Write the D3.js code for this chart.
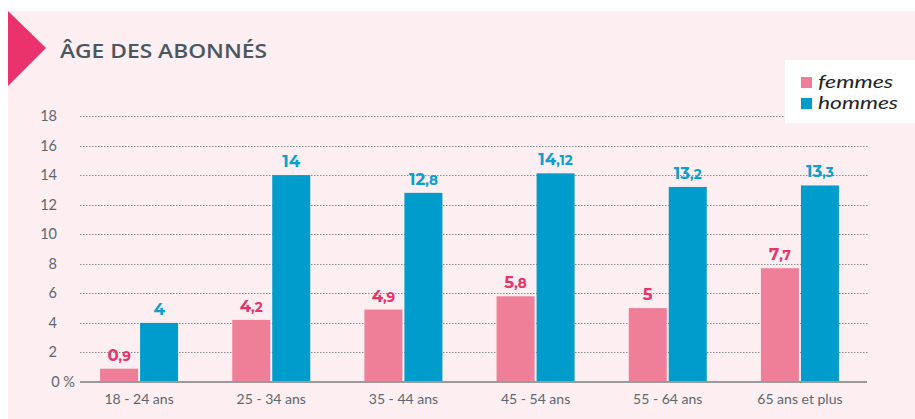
<!DOCTYPE html>
<html><head><meta charset="utf-8">
<script src="https://cdn.jsdelivr.net/npm/d3@7"></script>
<style>body{margin:0;background:#fff;}svg{display:block;}</style>
</head><body>
<script>
const categories = ["18 - 24 ans","25 - 34 ans","35 - 44 ans","45 - 54 ans","55 - 64 ans","65 ans et plus"];
const femmes = [0.9, 4.2, 4.9, 5.8, 5, 7.7];
const hommes = [4, 14, 12.8, 14.12, 13.2, 13.3];
const femmesLabels = ["0,9","4,2","4,9","5,8","5","7,7"];
const hommesLabels = ["4","14","12,8","14,12","13,2","13,3"];
const yTicks = [0,2,4,6,8,10,12,14,16,18];
const seriesNames = ["femmes","hommes"];
const colors = {femmes:"#ef7f98", hommes:"#009ccb"};
const labelColors = {femmes:"#e8336b", hommes:"#0aa0d0"};

const W=915,H=419;
const svg=d3.select("body").append("svg").attr("width",W).attr("height",H);
const font="Lato, 'Open Sans', sans-serif";
// background panel
svg.append("rect").attr("x",8).attr("y",11).attr("width",W-8).attr("height",H-11).attr("fill","#fdeef1");
// triangle
svg.append("path").attr("d","M8,11 L46,48 L8,86 Z").attr("fill","#ea336c");
svg.append("text").attr("x",60).attr("y",58).text("ÂGE DES ABONNÉS")
  .attr("font-family","'Open Sans', sans-serif").attr("font-size",19.5).attr("font-weight",600).attr("fill","#4b5760")
  .attr("textLength",207).attr("lengthAdjust","spacingAndGlyphs");

const y=d3.scaleLinear().domain([0,18]).range([382,116]);
const x0=d3.scaleBand().domain(categories).range([73,866]).padding(0);
const x1=d3.scaleBand().domain(seriesNames).range([x0.bandwidth()/2-39, x0.bandwidth()/2+39]).paddingInner(0.05);

// grid
const g=svg.append("g");
g.selectAll("line.grid").data(yTicks.filter(d=>d>0)).join("line")
  .attr("x1",80).attr("x2",869).attr("y1",d=>Math.round(y(d))+0.5).attr("y2",d=>Math.round(y(d))+0.5)
  .attr("stroke","#8a8a8a").attr("stroke-width",1).attr("stroke-dasharray","1.5,1.5");
// y labels
g.selectAll("text.yt").data(yTicks).join("text")
  .attr("x",d=>d===0?75:57).attr("y",d=>y(d)+5).attr("text-anchor","end")
  .text(d=>d===0?"0 %":d).attr("font-family",font).attr("font-size",14.5).attr("fill","#5f6670");

const data=categories.map((c,i)=>({cat:c, vals:[{k:"femmes",v:femmes[i],l:femmesLabels[i]},{k:"hommes",v:hommes[i],l:hommesLabels[i]}]}));
const grp=svg.selectAll("g.grp").data(data).join("g").attr("transform",d=>`translate(${x0(d.cat)},0)`);
grp.selectAll("rect").data(d=>d.vals).join("rect")
  .attr("x",d=>x1(d.k)).attr("width",x1.bandwidth()).attr("y",d=>y(d.v)).attr("height",d=>y(0)-y(d.v))
  .attr("fill",d=>colors[d.k]);
const lbl=grp.selectAll("text.val").data(d=>d.vals).join("text")
  .attr("x",d=>x1(d.k)+x1.bandwidth()/2).attr("y",d=>y(d.v)-8).attr("text-anchor","middle")
  .attr("font-family","Montserrat, 'Open Sans', sans-serif").attr("font-weight",700).attr("font-size",16.5).attr("fill",d=>labelColors[d.k]);
lbl.each(function(d){
  const parts=d.l.split(",");
  const t=d3.select(this);
  t.append("tspan").text(parts[0]);
  if(parts.length>1) t.append("tspan").attr("font-size",13.5).text(","+parts[1]);
});

// axis line
svg.append("line").attr("x1",80).attr("x2",867).attr("y1",382).attr("y2",382).attr("stroke","#9a9a9c").attr("stroke-width",2);
// x labels
svg.selectAll("text.xl").data(categories).join("text")
  .attr("x",d=>x0(d)+x0.bandwidth()/2).attr("y",404).attr("text-anchor","middle")
  .text(d=>d).attr("font-family",font).attr("font-size",14).attr("fill","#5f6670");

// legend
const legendLen={femmes:75, hommes:80};
svg.append("rect").attr("x",785).attr("y",60).attr("width",130).attr("height",63).attr("fill","#fff");
const leg=svg.selectAll("g.leg").data(seriesNames).join("g").attr("transform",(d,i)=>`translate(801,${77+i*21})`);
leg.append("rect").attr("width",11).attr("height",11).attr("fill",d=>colors[d]);
leg.append("text").attr("x",17).attr("y",11).text(d=>d).attr("font-family","Lato, sans-serif").attr("font-style","italic")
  .attr("font-size",17).attr("fill","#222")
  .attr("textLength",d=>legendLen[d]).attr("lengthAdjust","spacingAndGlyphs");
</script>
</body></html>
